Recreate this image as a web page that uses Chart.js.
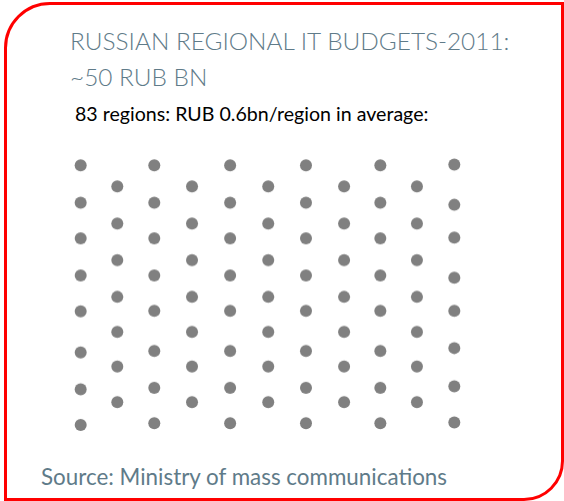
<!DOCTYPE html>
<html>
<head>
<meta charset="utf-8">
<script src="https://cdn.jsdelivr.net/npm/chart.js@4"></script>
<style>
  html, body { margin: 0; padding: 0; background: #fff; }
  body { width: 564px; height: 501px; position: relative; overflow: hidden; font-family: Lato, 'Open Sans', sans-serif; }
  #frame {
    position: absolute; left: 4px; top: 2px; width: 560px; height: 499px;
    box-sizing: border-box; border: 3px solid #ff0000;
    border-radius: 46px 0 40px 0;
  }
  .title {
    position: absolute; left: 70px; top: 22.5px;
    font-size: 24.4px; line-height: 36px; font-weight: 300; color: #5f7b89; white-space: nowrap;
  }
  .sub {
    position: absolute; left: 75px; top: 101.5px;
    font-size: 19.6px; line-height: 1.2; color: #000; white-space: nowrap;
  }
  .source {
    position: absolute; left: 41px; top: 463.5px;
    font-size: 22.4px; line-height: 1.2; color: #5f7b89; white-space: nowrap;
  }
  #dots { position: absolute; left: 62.3px; top: 147.35px; width: 411px; height: 293.6px; }
</style>
</head>
<body>
<div id="frame"></div>
<div class="title">RUSSIAN REGIONAL IT BUDGETS-2011:<br>~50 RUB BN</div>
<div class="sub">83 regions: RUB 0.6bn/region in average:</div>
<div id="dots"><canvas id="chart"></canvas></div>
<div class="source">Source: Ministry of mass communications</div>

<script>
// one dot per region, 83 in all, laid out in 11 staggered columns
const columnX = [0, 0.98, 1.97, 2.98, 4.0, 5.02, 6.03, 7.05, 8.02, 9.0, 10.0]

const rowsFirst = [0, 1.01, 1.98, 2.99, 3.96, 5.08, 6.08, 7.05]
const rowsOdd = [0, 1.01, 1.98, 2.99, 3.95, 5.04, 6.04, 7.0]
const rowsEven = [0.57, 1.58, 2.57, 3.57, 4.52, 5.46, 6.43]
const rowsLast = [-0.02, 1.07, 1.96, 3.05, 3.95, 4.96, 6.0, 6.98]

const columnRows = [
  rowsFirst, rowsEven, rowsOdd, rowsEven, rowsOdd, rowsEven,
  rowsOdd, rowsEven, rowsOdd, rowsEven, rowsLast
]

const regions = columnX.flatMap((x, i) => columnRows[i].map(y => ({ x, y })))

new Chart(document.getElementById('chart'), {
  type: 'scatter',
  data: {
    datasets: [{
      label: 'Regions',
      data: regions,
      backgroundColor: '#808080',
      borderWidth: 0,
      pointRadius: 6,
      pointHoverRadius: 6
    }]
  },
  options: {
    responsive: true,
    maintainAspectRatio: false,
    animation: false,
    clip: false,
    layout: { padding: 0, autoPadding: false },
    plugins: { legend: { display: false }, tooltip: { enabled: false } },
    scales: {
      x: { display: false, min: -0.5, max: 10.5 },
      y: { display: false, min: -0.5, max: 7.5, reverse: true }
    }
  }
})
</script>
</body>
</html>
